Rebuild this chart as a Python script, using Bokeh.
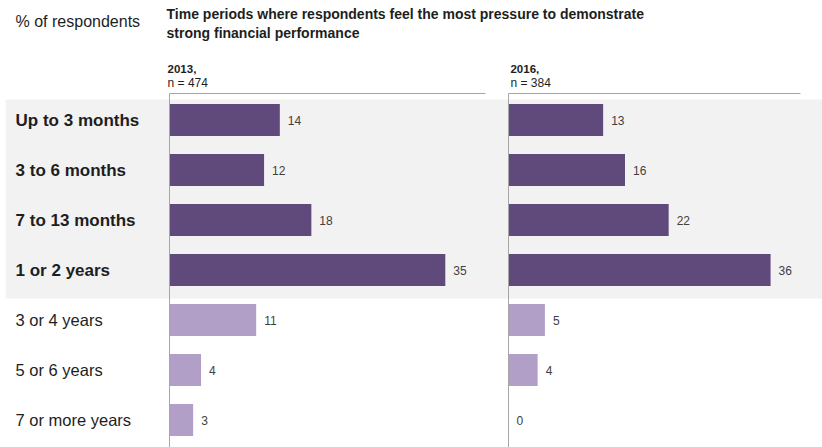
from bokeh.plotting import figure
from bokeh.models import Range1d, ColumnDataSource, BoxAnnotation
from bokeh.core.properties import value
from bokeh.embed import file_html
from bokeh.resources import INLINE

# ---- data ----
categories = ["Up to 3 months", "3 to 6 months", "7 to 13 months", "1 or 2 years",
              "3 or 4 years", "5 or 6 years", "7 or more years"]
values_2013 = [14, 12, 18, 35, 11, 4, 3]
values_2016 = [13, 16, 22, 36, 5, 4, 0]
highlighted = [True, True, True, True, False, False, False]
panel_years = ["2013,", "2016,"]
panel_n = ["n = 474", "n = 384"]
unit_label = "% of respondents"
title_lines = ["Time periods where respondents feel the most pressure to demonstrate",
               "strong financial performance"]

DARK = "#5f4a7b"
LIGHT = "#b19fc8"
BAND = "#f2f2f2"
AXIS = "#a6a6a6"
TXT = "#1e1e1e"
FONT = value("Liberation Sans")

rows = list(range(len(categories)))
colors = [DARK if h else LIGHT for h in highlighted]
styles = ["bold" if h else "normal" for h in highlighted]
sizes = ["17px" if h else "16.5px" for h in highlighted]

p = figure(width=822, height=447, output_backend="svg", toolbar_location=None,
           x_range=Range1d(-21.45, 82.87), y_range=Range1d(6.55, -2.39),
           min_border=0, min_border_left=0, min_border_right=0,
           min_border_top=0, min_border_bottom=0)
p.extra_x_ranges = {"p2": Range1d(-69.78, 43.13)}
p.xaxis.visible = False
p.yaxis.visible = False
p.xgrid.visible = False
p.ygrid.visible = False
p.outline_line_color = None
p.background_fill_color = "white"
p.border_fill_color = "white"

# highlighted band
p.add_layout(BoxAnnotation(top=-0.41, bottom=3.57, left=-20.8, fill_color=BAND, fill_alpha=1.0,
                           line_color=None, level="underlay"))

src1 = ColumnDataSource(dict(y=rows, v=values_2013, c=colors, lab=[str(v) for v in values_2013]))
src2 = ColumnDataSource(dict(y=rows, v=values_2016, c=colors, lab=[str(v) for v in values_2016]))

for src, rng in ((src1, "default"), (src2, "p2")):
    p.hbar(y="y", left=0, right="v", height=0.64, fill_color="c", line_color=None,
           source=src, x_range_name=rng)
    p.text(x="v", y="y", text="lab", x_offset=8, text_baseline="middle",
           text_font=FONT, text_font_size="12px", text_color="#404040",
           source=src, x_range_name=rng)
    # axis lines
    p.segment(x0=[0, 0], y0=[-0.53, -0.53], x1=[0, 40.1], y1=[6.55, -0.53],
              line_color=AXIS, line_width=1, x_range_name=rng)

# panel headers
for yr, n, rng, x0 in ((panel_years[0], panel_n[0], "default", -0.25),
                       (panel_years[1], panel_n[1], "p2", 0.27)):
    p.text(x=[x0], y=[-1.03], text=[yr], text_baseline="middle", text_font=FONT,
           text_font_size="11.5px", text_font_style="bold", text_color=TXT, x_range_name=rng)
    p.text(x=[x0], y=[-0.75], text=[n], text_baseline="middle", text_font=FONT,
           text_font_size="12px", text_color=TXT, x_range_name=rng)

# category labels
cat_src = ColumnDataSource(dict(y=rows, t=categories, s=styles, fs=sizes))
p.text(x=-19.54, y="y", text="t", text_font_style="s", text_font_size="fs",
       text_baseline="middle", text_font=FONT, text_color=TXT, source=cat_src)

# top-left unit label and title
p.text(x=[-19.54], y=[-1.97], text=[unit_label], text_baseline="middle", text_font=FONT,
       text_font_size="16px", text_color=TXT)
p.text(x=[-0.38, -0.38], y=[-2.13, -1.75], text=title_lines, text_baseline="middle",
       text_font=FONT, text_font_size="14px", text_font_style="bold", text_color=TXT)

open("out.html", "w").write(file_html(p, INLINE))
